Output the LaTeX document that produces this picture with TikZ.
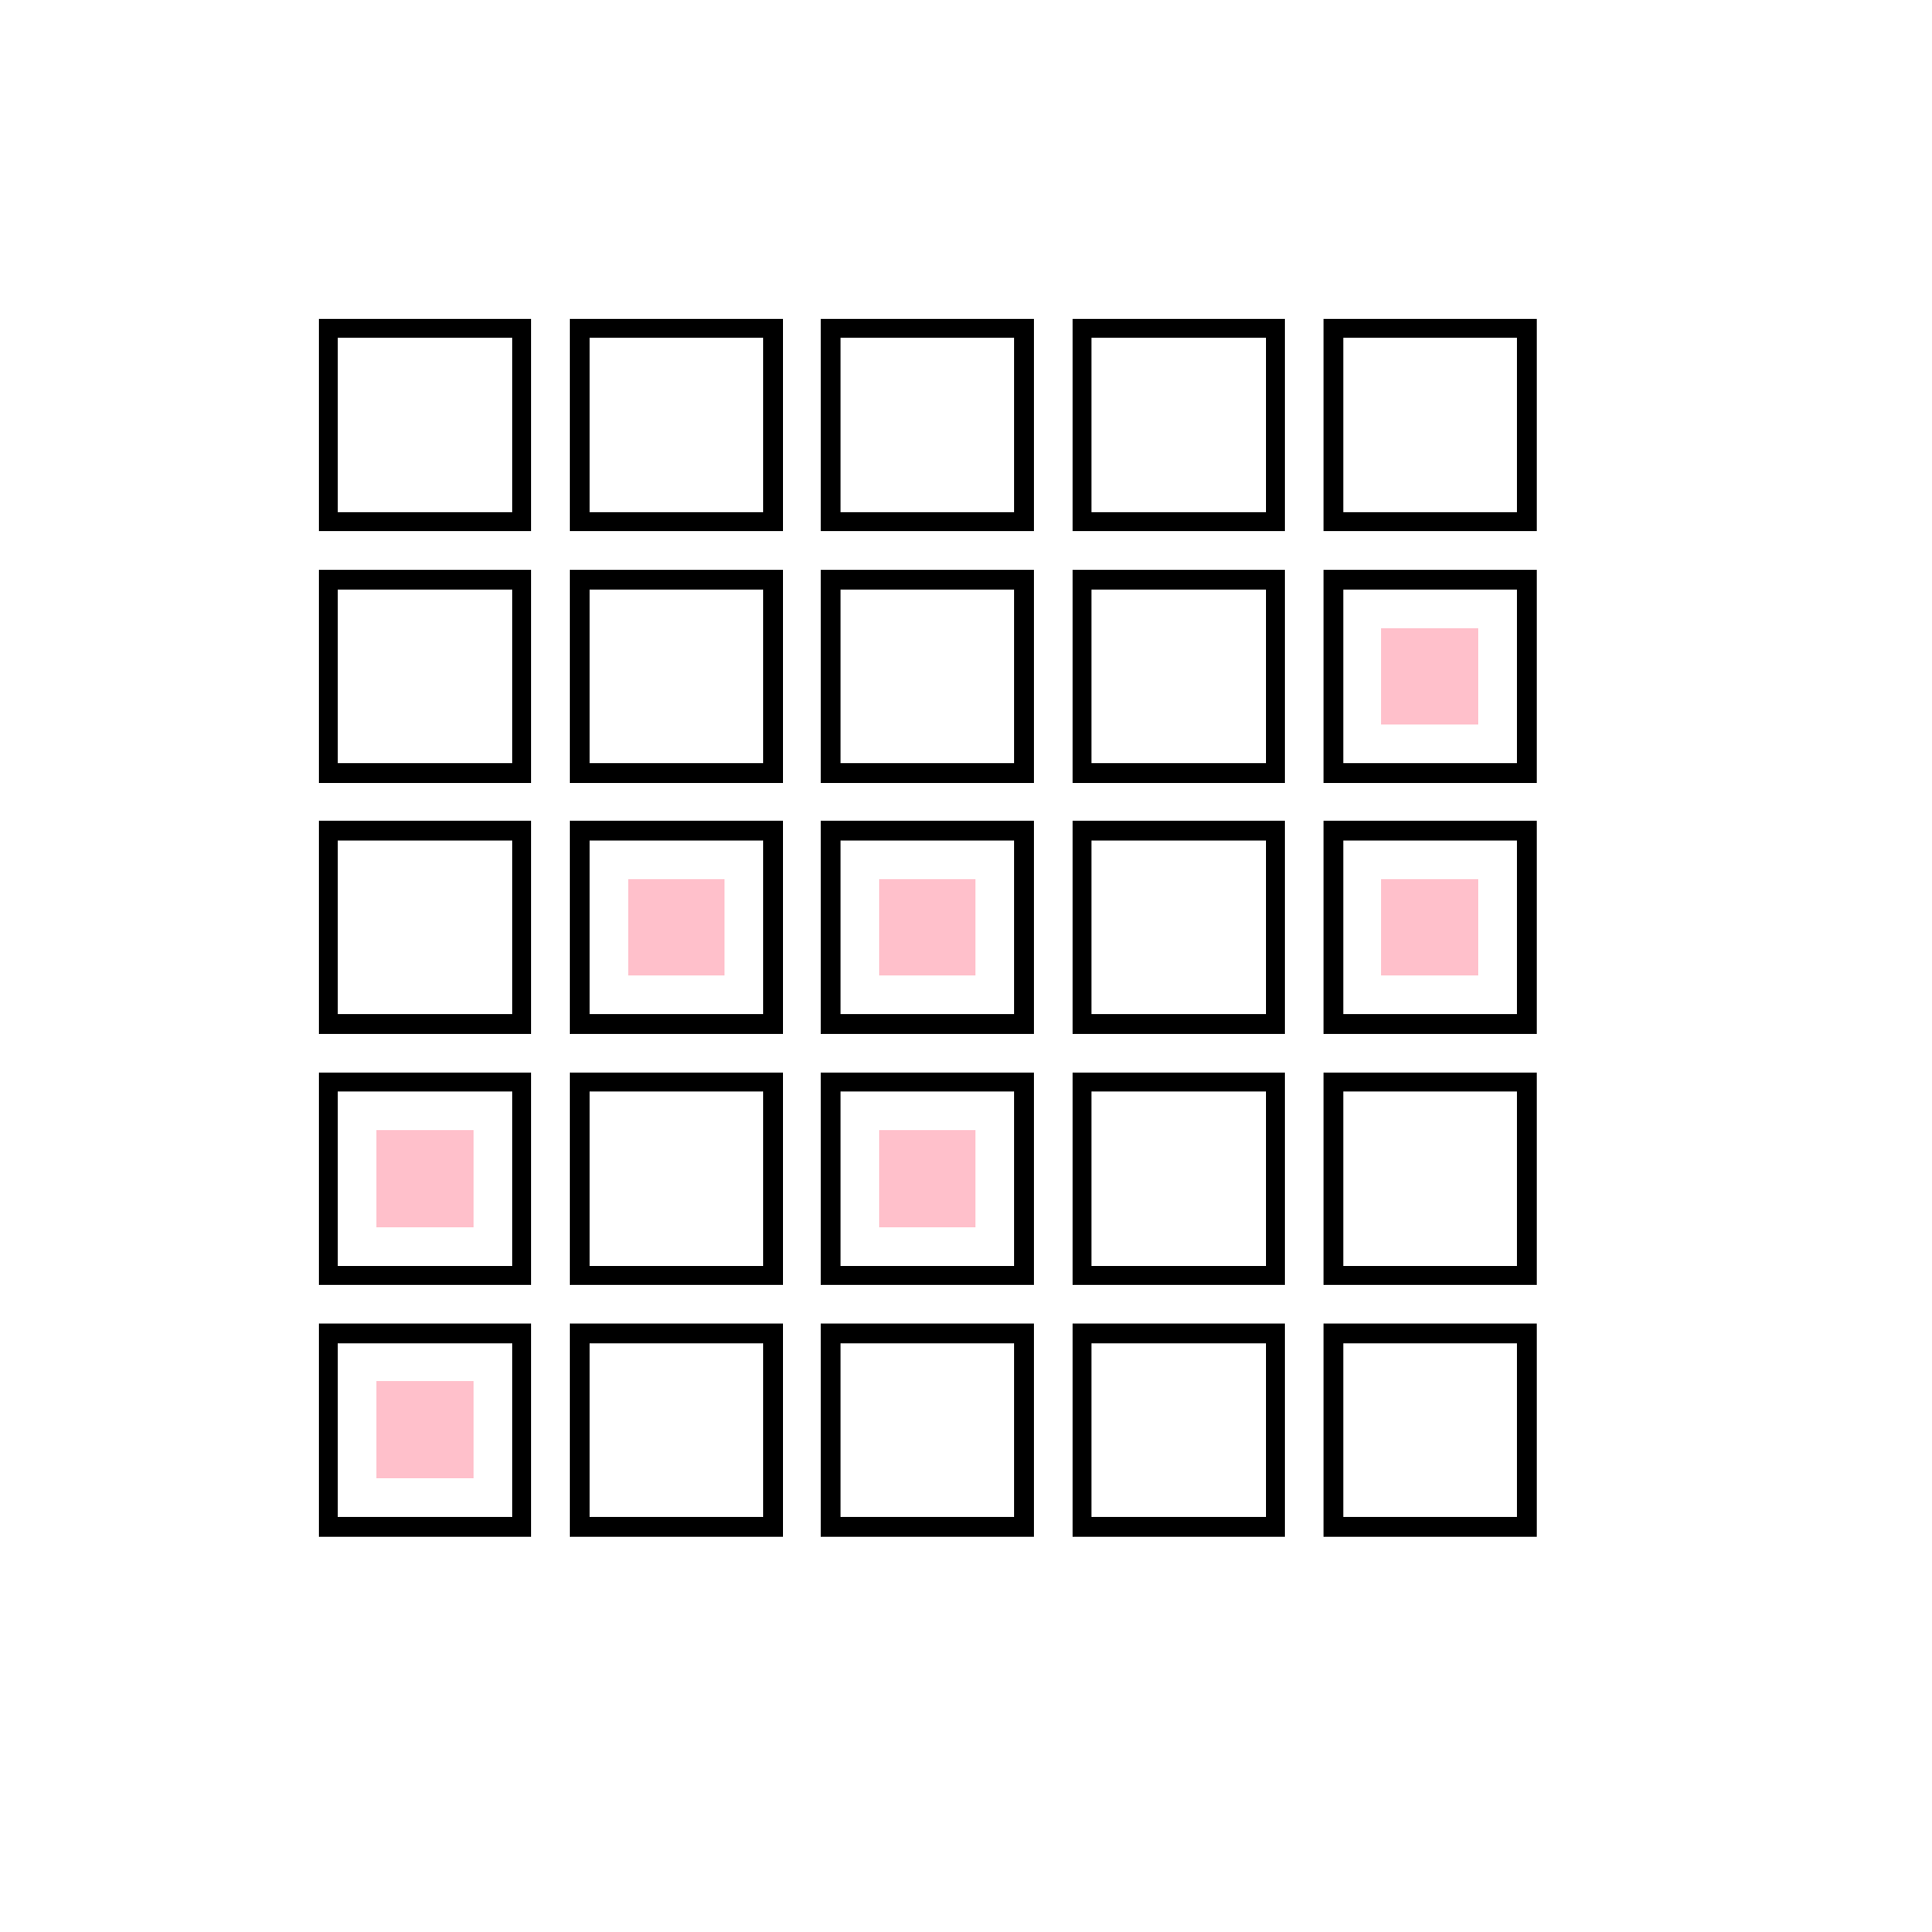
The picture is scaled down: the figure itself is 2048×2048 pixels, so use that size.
\documentclass[tikz,border=0pt]{standalone}
\definecolor{pinkfill}{HTML}{FFC0CB}
\tikzset{
  cellbox/.style={draw=black, line width=20.7pt, fill=white, minimum size=205pt, inner sep=0pt, outer sep=0pt, shape=rectangle},
  markbox/.style={fill=pinkfill, draw=none, minimum size=102.5pt, inner sep=0pt, shape=rectangle}
}
\begin{document}
\begin{tikzpicture}[x=1pt,y=-1pt]
\useasboundingbox[fill=white] (0,0) rectangle (2048,2048);
\foreach \r in {0,...,4}{
  \foreach \c in {0,...,4}{
    \node[cellbox] (c\r\c) at ({450.5+266.3*\c},{450.5+266.3*\r}) {};
  }
}
\foreach \r/\c in {1/4,2/1,2/2,2/4,3/0,3/2,4/0}{
  \node[markbox] (m\r\c) at (c\r\c.center) {};
}
\end{tikzpicture}
\end{document}
